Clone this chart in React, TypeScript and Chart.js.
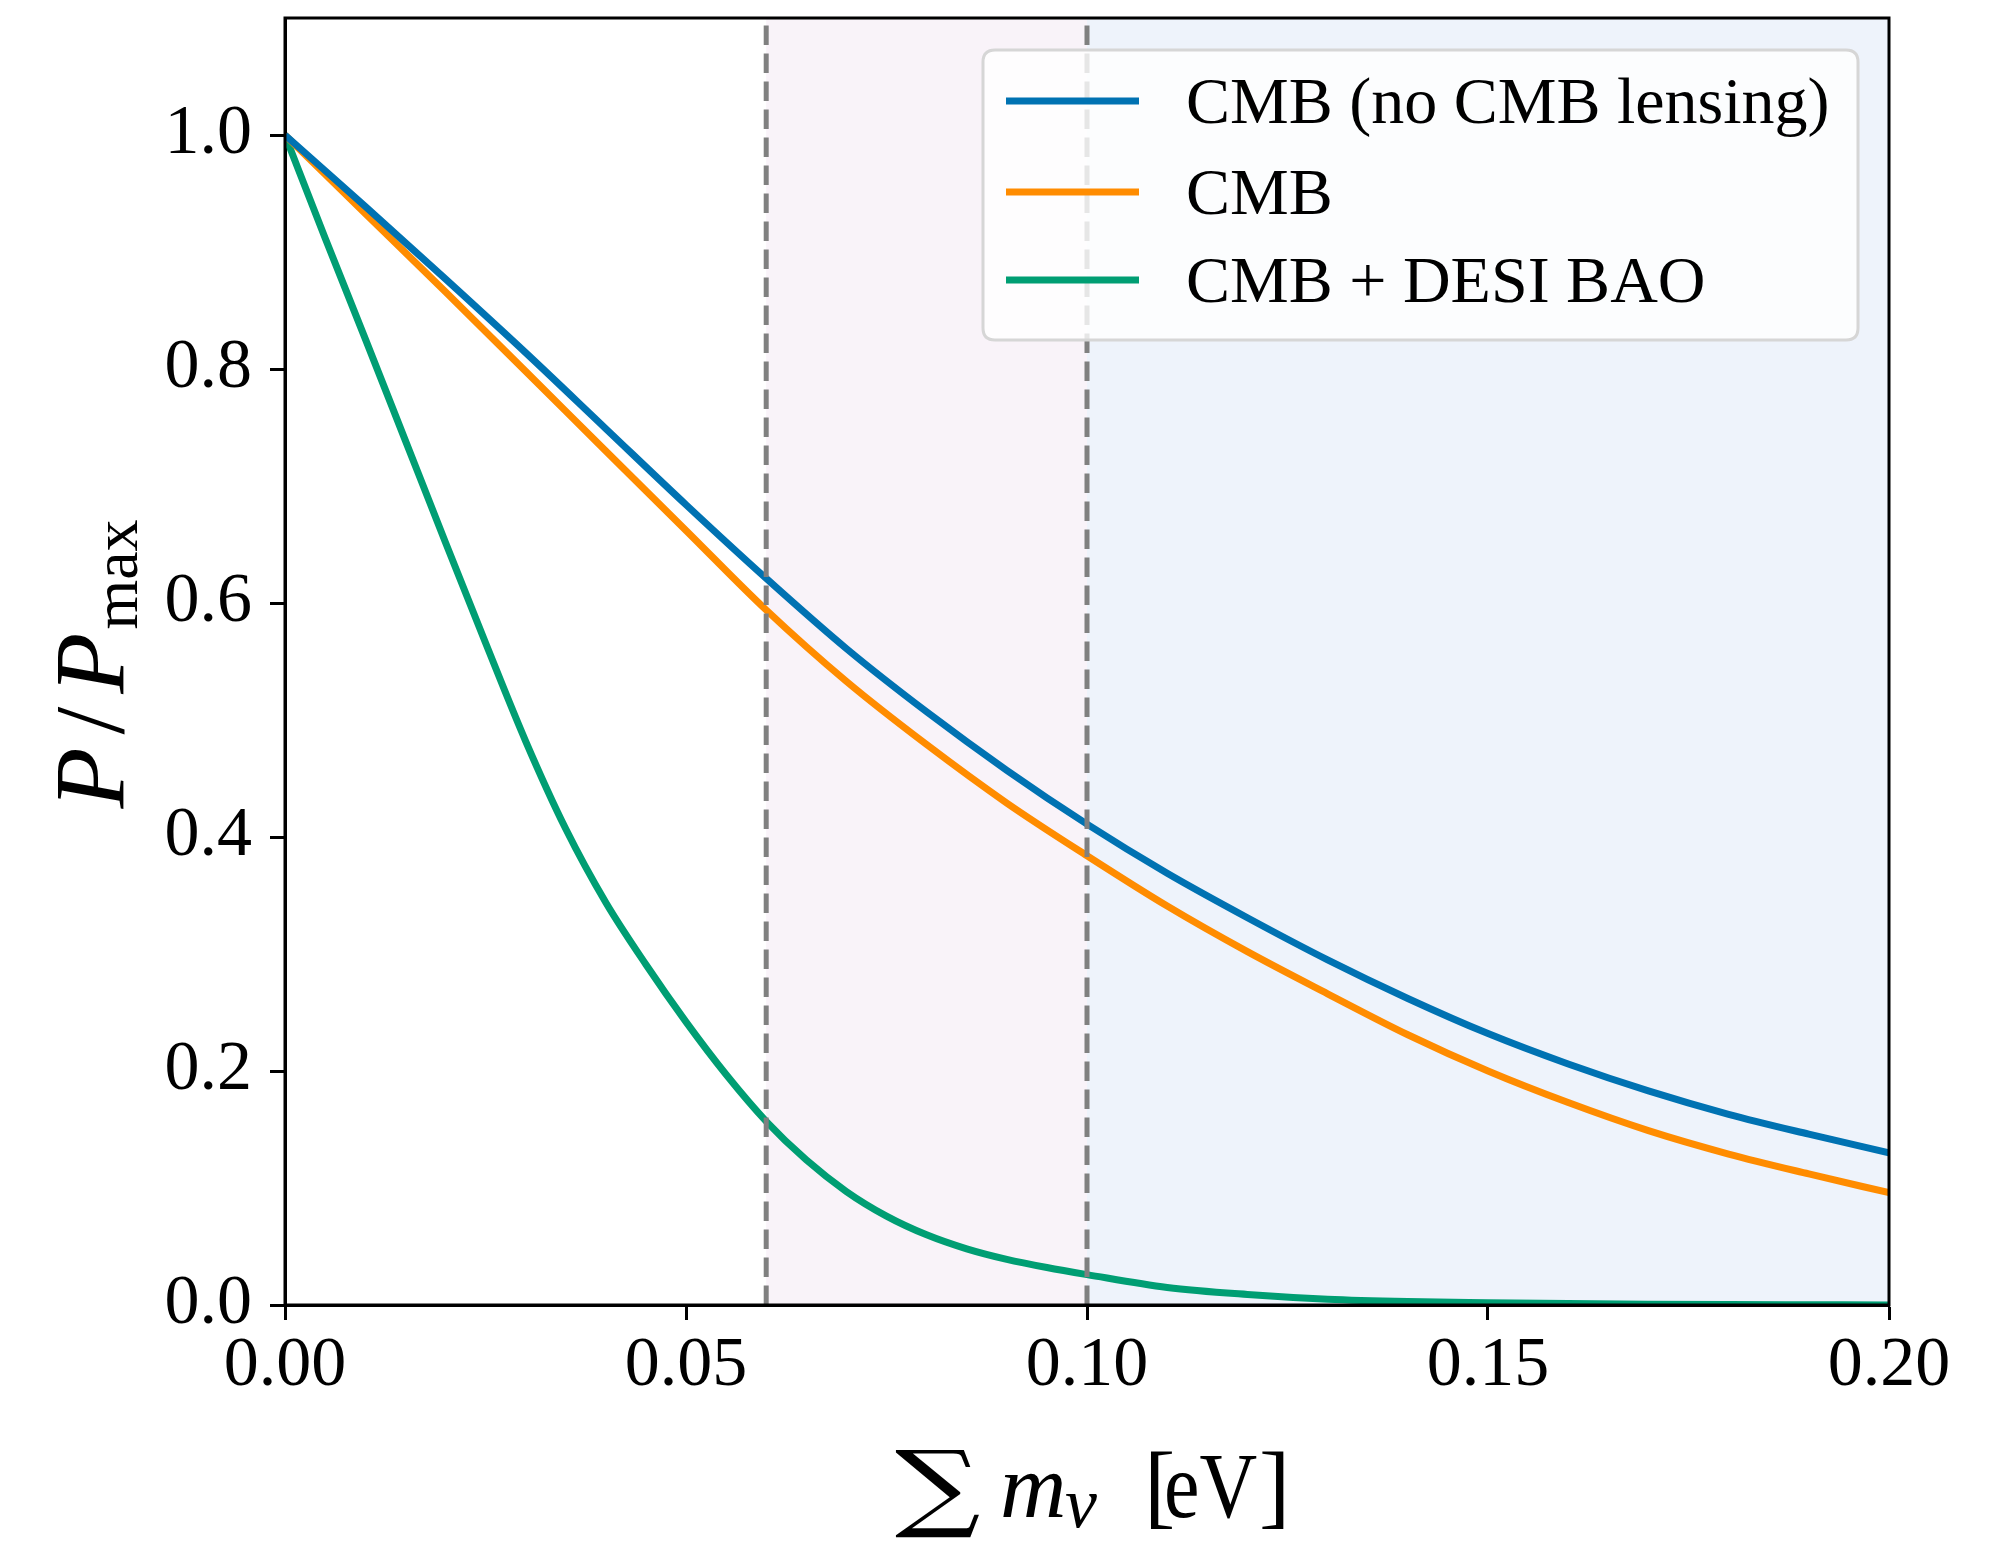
import React, { useEffect, useRef } from "react";
import { Chart, registerables } from "chart.js";

Chart.register(...registerables);

// ---- data ----
const massGrid = [
  0, 0.01, 0.02, 0.03, 0.04, 0.05, 0.06, 0.07, 0.08, 0.09, 0.1,
  0.11, 0.12, 0.13, 0.14, 0.15, 0.16, 0.17, 0.18, 0.19, 0.2,
];
const cmbNoLensing = [
  1.0, 0.939, 0.877, 0.814, 0.749, 0.684, 0.621, 0.561, 0.507, 0.457, 0.411,
  0.369, 0.331, 0.295, 0.262, 0.232, 0.206, 0.183, 0.163, 0.146, 0.13,
];
const cmbOnly = [
  1.0, 0.933, 0.866, 0.798, 0.73, 0.662, 0.594, 0.533, 0.479, 0.429, 0.384,
  0.341, 0.302, 0.266, 0.231, 0.2, 0.173, 0.149, 0.129, 0.112, 0.096,
];
const massGridDesi = [
  0, 0.005, 0.01, 0.015, 0.02, 0.025, 0.03, 0.035, 0.04, 0.045, 0.05, 0.055,
  0.06, 0.065, 0.07, 0.075, 0.08, 0.085, 0.09, 0.095, 0.1, 0.11, 0.12, 0.13,
  0.14, 0.15, 0.16, 0.17, 0.18, 0.19, 0.2,
];
const cmbDesi = [
  1.0, 0.912, 0.826, 0.739, 0.652, 0.566, 0.482, 0.407, 0.344, 0.291, 0.242,
  0.197, 0.157, 0.124, 0.097, 0.076, 0.06, 0.048, 0.039, 0.032, 0.026,
  0.015, 0.009, 0.005, 0.003, 0.002, 0.0012, 0.0007, 0.0004, 0.0002, 0.0001,
];

const seriesLabels = ["CMB (no CMB lensing)", "CMB", "CMB + DESI BAO"];
const seriesColors = ["#0072B2", "#FF8C00", "#009E73"];

const xTickValues = [0, 0.05, 0.1, 0.15, 0.2];
const yTickValues = [0, 0.2, 0.4, 0.6, 0.8, 1.0];
const markerLines = [0.06, 0.1];
const shadedSpans = [
  [0.06, 0.1],
  [0.1, 0.2],
];
const spanColors = ["#f9f3f9", "#eef3fb"];

const SERIF = '"Liberation Serif", "DejaVu Serif", serif';

function drawFitted(ctx: CanvasRenderingContext2D, ch: string, font: string, x0: number, y0: number, w: number, h: number) {
  ctx.save();
  ctx.font = font;
  ctx.textAlign = "left";
  ctx.textBaseline = "alphabetic";
  const m = ctx.measureText(ch);
  const gw = m.actualBoundingBoxLeft + m.actualBoundingBoxRight;
  const gh = m.actualBoundingBoxAscent + m.actualBoundingBoxDescent;
  ctx.translate(x0, y0);
  ctx.scale(w / gw, h / gh);
  ctx.fillText(ch, m.actualBoundingBoxLeft, m.actualBoundingBoxAscent);
  ctx.restore();
}

function drawSqueezed(ctx: CanvasRenderingContext2D, text: string, font: string, x: number, y: number, sx: number) {
  ctx.save();
  ctx.font = font;
  ctx.translate(x, y);
  ctx.scale(sx, 1);
  ctx.fillText(text, 0, 0);
  ctx.restore();
}

const decorPlugin = {
  id: "decor",
  beforeDatasetsDraw(chart: any) {
    const { ctx, chartArea: ca, scales } = chart;
    const x = scales.x;
    ctx.save();
    shadedSpans.forEach((s, i) => {
      const a = x.getPixelForValue(s[0]);
      const b = x.getPixelForValue(s[1]);
      ctx.fillStyle = spanColors[i];
      ctx.fillRect(a, ca.top, b - a, ca.bottom - ca.top);
    });
    ctx.restore();
  },
  afterDatasetsDraw(chart: any) {
    const { ctx, chartArea: ca, scales } = chart;
    const x = scales.x;
    ctx.save();
    // dashed vertical marker lines (drawn from bottom to top)
    ctx.strokeStyle = "#808080";
    ctx.lineWidth = 5;
    ctx.setLineDash([19.5, 8.5]);
    markerLines.forEach((v) => {
      const px = x.getPixelForValue(v);
      ctx.beginPath();
      ctx.moveTo(px, ca.bottom);
      ctx.lineTo(px, ca.top);
      ctx.stroke();
    });
    ctx.setLineDash([]);
    // frame
    ctx.strokeStyle = "#000";
    ctx.lineWidth = 3;
    ctx.strokeRect(ca.left, ca.top, ca.right - ca.left, ca.bottom - ca.top);
    ctx.restore();
  },
  afterDraw(chart: any) {
    const { ctx, chartArea: ca } = chart;
    ctx.save();
    // ---- legend ----
    const bw = 875;
    const bh = 290;
    const bx = ca.right - 31 - bw;
    const by = ca.top + 32;
    const r = 12;
    ctx.beginPath();
    ctx.moveTo(bx + r, by);
    ctx.lineTo(bx + bw - r, by);
    ctx.quadraticCurveTo(bx + bw, by, bx + bw, by + r);
    ctx.lineTo(bx + bw, by + bh - r);
    ctx.quadraticCurveTo(bx + bw, by + bh, bx + bw - r, by + bh);
    ctx.lineTo(bx + r, by + bh);
    ctx.quadraticCurveTo(bx, by + bh, bx, by + bh - r);
    ctx.lineTo(bx, by + r);
    ctx.quadraticCurveTo(bx, by, bx + r, by);
    ctx.closePath();
    ctx.fillStyle = "rgba(255,255,255,0.8)";
    ctx.fill();
    ctx.strokeStyle = "#d6d6d6";
    ctx.lineWidth = 3;
    ctx.stroke();

    const rowCenters = [51, 142, 230];
    chart.data.datasets.forEach((ds: any, i: number) => {
      const cy = by + rowCenters[i];
      ctx.strokeStyle = ds.borderColor;
      ctx.lineWidth = 7;
      ctx.beginPath();
      ctx.moveTo(bx + 23, cy);
      ctx.lineTo(bx + 156, cy);
      ctx.stroke();
      ctx.fillStyle = "#000";
      ctx.font = `66px ${SERIF}`;
      ctx.textAlign = "left";
      ctx.textBaseline = "alphabetic";
      ctx.fillText(ds.label, bx + 203, cy + 22);
    });

    // ---- x-axis title: ∑ m_ν [eV] ----
    ctx.fillStyle = "#000";
    ctx.textAlign = "left";
    ctx.textBaseline = "alphabetic";
    const cx = (ca.left + ca.right) / 2;
    const base = 1517;
    drawFitted(ctx, "∑", `100px "DejaVu Serif", serif`, cx - 192, 1450, 85, 88);
    ctx.font = `italic 92px ${SERIF}`;
    ctx.fillText("m", cx - 87, base);
    ctx.font = `italic 72px ${SERIF}`;
    ctx.fillText("ν", cx - 22, base + 10);
    ctx.font = `94px ${SERIF}`;
    ctx.fillText("[", cx + 57, base);
    drawSqueezed(ctx, "eV", `94px ${SERIF}`, cx + 77, base, 0.85);
    ctx.font = `94px ${SERIF}`;
    ctx.fillText("]", cx + 172, base);

    // ---- y-axis title: P / P_max (rotated) ----
    ctx.save();
    const yBase = ca.left - 162;
    const pFont = `italic 100px ${SERIF}`;
    const slashFont = `100px ${SERIF}`;
    const subFont = `64px ${SERIF}`;
    ctx.font = pFont;
    const pW = ctx.measureText("P").width;
    ctx.font = slashFont;
    const sW = ctx.measureText("/").width;
    ctx.font = subFont;
    const maxW = ctx.measureText("max").width;
    const g = 13;
    const tot = pW + g + sW + g + pW + 3 + maxW;
    const centerY = 664;
    ctx.translate(yBase, centerY + tot / 2);
    ctx.rotate(-Math.PI / 2);
    let t = 0;
    ctx.font = pFont;
    ctx.fillText("P", t, 0);
    t += pW + g;
    ctx.font = slashFont;
    ctx.fillText("/", t, 0);
    t += sW + g;
    ctx.font = pFont;
    ctx.fillText("P", t, 0);
    t += pW + 3;
    ctx.font = subFont;
    ctx.fillText("max", t, 14);
    ctx.restore();

    ctx.restore();
  },
};

export default function App() {
  const canvasRef = useRef<HTMLCanvasElement | null>(null);

  useEffect(() => {
    const canvas = canvasRef.current;
    if (!canvas) return;
    const mk = (xs: number[], ys: number[]) => xs.map((v, i) => ({ x: v, y: ys[i] }));
    const seriesData = [
      mk(massGrid, cmbNoLensing),
      mk(massGrid, cmbOnly),
      mk(massGridDesi, cmbDesi),
    ];
    const chart = new Chart(canvas, {
      type: "scatter",
      data: {
        datasets: seriesData.map((d, i) => ({
          label: seriesLabels[i],
          data: d,
          showLine: true,
          borderColor: seriesColors[i],
          backgroundColor: seriesColors[i],
          borderWidth: 7,
          pointRadius: 0,
          cubicInterpolationMode: "monotone" as const,
          fill: false,
        })),
      },
      options: {
        responsive: false,
        animation: false,
        devicePixelRatio: 1,
        layout: { padding: { left: 0, top: 18, right: 120, bottom: 0 } },
        plugins: {
          legend: { display: false },
          tooltip: { enabled: false },
        },
        scales: {
          x: {
            type: "linear",
            min: 0,
            max: 0.2,
            afterBuildTicks: (scale: any) => {
              scale.ticks = xTickValues.map((v) => ({ value: v }));
            },
            afterFit: (scale: any) => {
              scale.height = 238;
              scale.paddingLeft = 0;
              scale.paddingRight = 0;
            },
            ticks: {
              callback: (v: any) => Number(v).toFixed(2),
              font: { family: SERIF, size: 70, lineHeight: 1 },
              color: "#000",
              padding: 12,
              maxRotation: 0,
              autoSkip: false,
            },
            grid: {
              display: true,
              drawOnChartArea: false,
              drawTicks: true,
              tickLength: 15,
              tickWidth: 3,
              tickColor: "#000",
            },
            border: { display: true, color: "#000", width: 3 },
          },
          y: {
            type: "linear",
            min: 0,
            max: 1.1,
            afterBuildTicks: (scale: any) => {
              scale.ticks = yTickValues.map((v) => ({ value: v }));
            },
            afterFit: (scale: any) => {
              scale.width = 285;
              scale.paddingTop = 0;
              scale.paddingBottom = 0;
            },
            ticks: {
              callback: (v: any) => Number(v).toFixed(1),
              font: { family: SERIF, size: 70, lineHeight: 1 },
              color: "#000",
              padding: 18,
              autoSkip: false,
            },
            grid: {
              display: true,
              drawOnChartArea: false,
              drawTicks: true,
              tickLength: 15,
              tickWidth: 3,
              tickColor: "#000",
            },
            border: { display: true, color: "#000", width: 3 },
          },
        },
      },
      plugins: [decorPlugin],
    });
    return () => chart.destroy();
  }, []);

  return (
    <div style={{ position: "absolute", left: 0, top: 0, width: 2009, height: 1543, background: "#fff" }}>
      <canvas ref={canvasRef} width={2009} height={1543} style={{ width: 2009, height: 1543, display: "block" }} />
    </div>
  );
}
